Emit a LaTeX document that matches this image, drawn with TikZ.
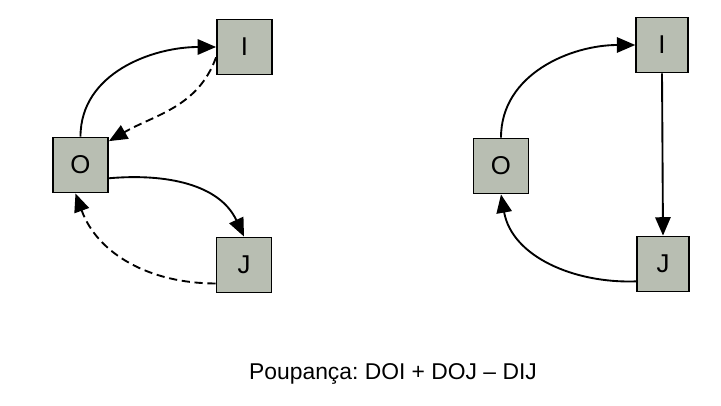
\documentclass[tikz,border=0pt]{standalone}
\usepackage{fontspec}
\setmainfont{Liberation Sans}
\usetikzlibrary{arrows.meta}
\frenchspacing

\definecolor{boxgray}{RGB}{184,190,178}

\begin{document}
\begin{tikzpicture}[line width=1.6pt,
        box/.style={draw, fill=boxgray, minimum size=1.65cm, inner sep=0pt, font=\fontsize{22}{24}\selectfont},
        flow/.style={-{Triangle[length=5.5mm, width=4.6mm]}},
        back/.style={flow, dash pattern=on 7pt off 4pt}]
        \useasboundingbox (0,0) rectangle (21.63,12.15);

        % The left accounts
        \node[box] (O1) at (2.415,7.2) {O};
        \node[box] (I1) at (7.335,10.74) {I};
        \node[box] (J1) at (7.32,4.2) {J};

        % Flows out of O and back to O
        \draw[flow] (O1.north) to[out=90, in=180] (I1.west);
        \draw[back] (I1.200) to[out=-110, in=30] (O1.40);
        \draw[flow] (O1.-25) to[out=5, in=115] (J1.north);
        \draw[back] (J1.213) to[out=180, in=-70] (O1.-100);

        % The right accounts
        \node[box] (O2) at (15.03,7.17) {O};
        \node[box, minimum width=1.55cm] (I2) at (19.86,10.8) {I};
        \node[box, minimum width=1.55cm] (J2) at (19.89,4.23) {J};

        % The cycle O - I - J - O
        \draw[flow] (O2.north) to[out=90, in=180] (I2.west);
        \draw[flow] (I2.south) -- (J2.north);
        \draw[flow] (J2.213) to[out=182, in=-80] (O2.south);

        % Caption
        \node[font=\fontsize{19.5}{22}\selectfont] (cap) at (11.79,0.93) {Poupança: DOI + DOJ – DIJ};
    \end{tikzpicture}
\end{document}
